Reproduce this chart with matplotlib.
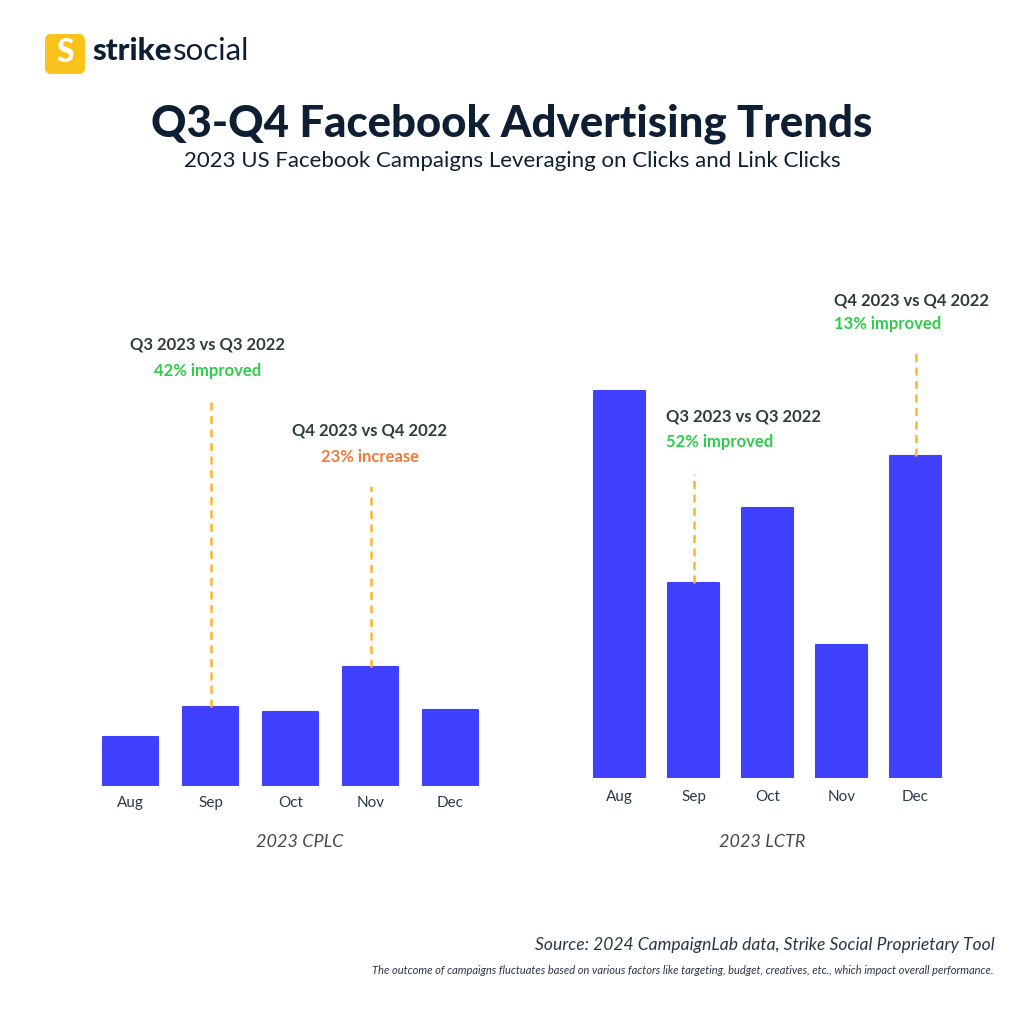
import matplotlib
matplotlib.use("Agg")
import matplotlib.pyplot as plt
from matplotlib.patches import FancyBboxPatch

plt.rcParams['font.family'] = ['Lato', 'DejaVu Sans']

months = ["Aug", "Sep", "Oct", "Nov", "Dec"]
# Relative bar heights (no axis scale shown)
cplc = [49, 79, 74, 119, 76]
lctr = [387, 195, 270, 133, 322]

cplc_title = "2023 CPLC"
lctr_title = "2023 LCTR"

BAR = "#4040ff"
DASH = "#f8b733"
GREEN = "#2ecc4a"
ORANGE = "#f07a3a"
HEAD = "#2f3d36"
NAVY = "#0f1f33"

W, H = 1024, 1024
fig = plt.figure(figsize=(10.24, 10.24), dpi=100)
fig.patch.set_facecolor("white")

def fy(y):
    return 1 - y / H

def fx(x):
    return x / W

def make_axes(left, right, bottom, top):
    return fig.add_axes([fx(left), fy(bottom), fx(right) - fx(left), fy(top) - fy(bottom)])

axL = make_axes(90.5, 490.5, 786, 300)
axL.set_xlim(-0.5, 4.5)
axL.set_ylim(0, 486)
axR = make_axes(582.5, 952.5, 778, 292)
axR.set_xlim(-0.5, 4.5)
axR.set_ylim(0, 486)

for ax, vals, pad in [(axL, cplc, 7.5), (axR, lctr, 8.5)]:
    x = list(range(len(months)))
    ax.bar(x, vals, width=0.69, color=BAR, edgecolor=BAR, linewidth=1.5, joinstyle="round")
    ax.set_xticks(x)
    ax.set_xticklabels(months, fontsize=11, color="#2b3a4a")
    ax.tick_params(axis="x", length=0, pad=pad)
    ax.set_yticks([])
    for s in ax.spines.values():
        s.set_visible(False)
    ax.patch.set_alpha(0)

dash = (0, (3.2, 2.2))
axL.plot([1, 1], [cplc[1], 786 - 397], ls=dash, color=DASH, lw=1.8)
axL.plot([3, 3], [cplc[3], 786 - 486], ls=dash, color=DASH, lw=1.8)
axR.plot([1, 1], [lctr[1], 778 - 474], ls=dash, color=DASH, lw=1.8)
axR.plot([4, 4], [lctr[4], 778 - 348], ls=dash, color=DASH, lw=1.8)

fig.text(fx(300), fy(842), cplc_title, ha="center", va="center", fontsize=13,
         style="italic", color="#444a4a")
fig.text(fx(762), fy(842), lctr_title, ha="center", va="center", fontsize=13,
         style="italic", color="#444a4a")

def ann(x, y1, y2, head, sub, col, ha):
    fig.text(fx(x), fy(y1), head, ha=ha, va="center", fontsize=12, weight="bold", color=HEAD)
    fig.text(fx(x), fy(y2), sub, ha=ha, va="center", fontsize=12, weight="bold", color=col)

ann(208, 345, 371, "Q3 2023 vs Q3 2022", "42% improved", GREEN, "center")
ann(370, 430, 457, "Q4 2023 vs Q4 2022", "23% increase", ORANGE, "center")
ann(666, 416, 442, "Q3 2023 vs Q3 2022", "52% improved", GREEN, "left")
ann(834, 300, 324, "Q4 2023 vs Q4 2022", "13% improved", GREEN, "left")

fig.text(0.5, fy(124), "Q3-Q4 Facebook Advertising Trends", ha="center", va="center",
         fontsize=31.5, weight="black", color=NAVY)
fig.text(0.5, fy(161), "2023 US Facebook Campaigns Leveraging on Clicks and Link Clicks",
         ha="center", va="center", fontsize=16, color=NAVY)

# logo
logo = FancyBboxPatch((fx(45), fy(74)), fx(40), fx(40), boxstyle="round,pad=0,rounding_size=0.006",
                      transform=fig.transFigure, facecolor="#f9c31c", edgecolor="none")
fig.add_artist(logo)
fig.text(fx(65), fy(53), "S", ha="center", va="center", fontsize=23, weight="black", color="white")
t1 = fig.text(fx(92), fy(51), "strike", ha="left", va="center", fontsize=22.5, weight="black", color=NAVY)
fig.canvas.draw()
bb = t1.get_window_extent()
fig.text(bb.x1 / W + 0.001, fy(51), "social", ha="left", va="center", fontsize=22.5,
         weight="normal", color=NAVY)

fig.text(fx(995), fy(945), "Source: 2024 CampaignLab data, Strike Social Proprietary Tool",
         ha="right", va="center", fontsize=12.6, style="italic", color="#2b3548")
fig.text(fx(993), fy(971),
         "The outcome of campaigns fluctuates based on various factors like targeting, budget, creatives, etc., which impact overall performance.",
         ha="right", va="center", fontsize=8, style="italic", color="#2b3548")

fig.savefig("out.png", dpi=100, facecolor="white")
